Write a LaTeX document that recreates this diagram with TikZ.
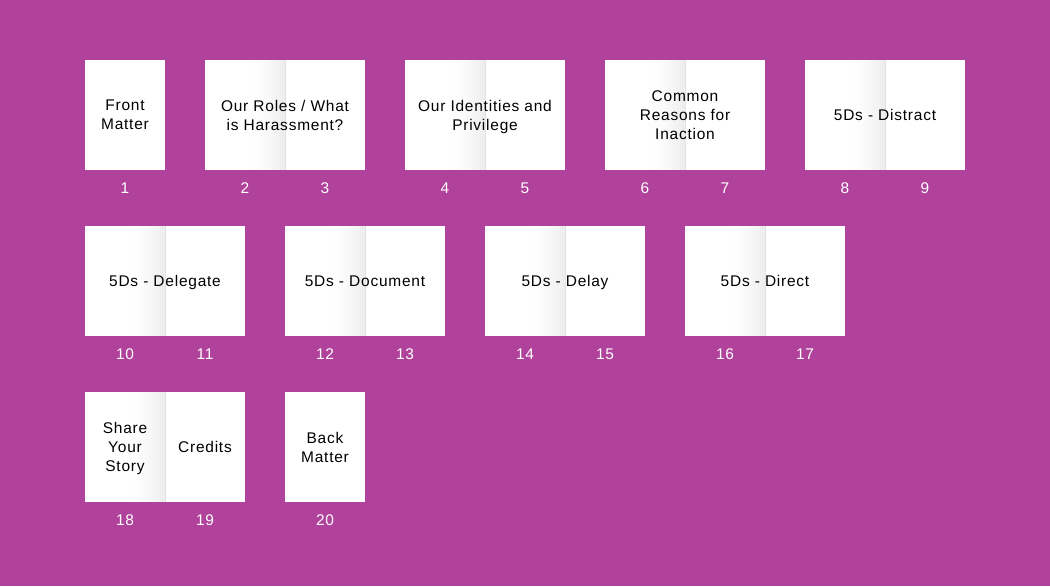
\documentclass[tikz,border=0pt]{standalone}
\usepackage{fontspec}
\setmainfont{Liberation Sans}[LetterSpace=5]
\usetikzlibrary{positioning}
\definecolor{bgcol}{HTML}{B0429B}
\definecolor{gutcol}{HTML}{E2E2E2}

\begin{document}
\begin{tikzpicture}[
  x=0.75pt, y=-0.75pt,
  font=\fontsize{11.6}{14.25}\selectfont,
  page/.style   = {fill=white, minimum width=60pt, minimum height=82.5pt,
                   inner sep=0pt, align=center, text depth=0pt},
  spread/.style = {page, minimum width=120pt,
                   path picture={
                     \foreach \k in {1,...,16}
                       \fill[black, fill opacity={0.075*(1-\k/17)^2}]
                         ([xshift={-2*\k*1pt}]path picture bounding box.north)
                         rectangle ([xshift={-2*(\k-1)*1pt}]path picture bounding box.south);
                     \draw[gutcol, line width=0.75pt]
                       (path picture bounding box.north)
                       -- (path picture bounding box.south);}},
  txt/.style    = {align=center, inner sep=0pt, text depth=0pt},
  num/.style    = {text=white, inner sep=0pt}]

\fill[bgcol] (0,0) rectangle (1050,586);

% row 1
\node[page]   (p1)  at (125,115) {Front\\Matter};
\node[spread] (p23) at (285,115) {Our Roles / What\\is Harassment?};
\node[spread] (p45) at (485,115) {Our Identities and\\Privilege};
\node[spread] (p67) at (685,115) {Common\\Reasons for\\Inaction};
\node[spread] (p89) at (885,115) {5Ds - Distract};

% row 2
\node[spread] (p1011) at (165,281) {5Ds - Delegate};
\node[spread] (p1213) at (365,281) {5Ds - Document};
\node[spread] (p1415) at (565,281) {5Ds - Delay};
\node[spread] (p1617) at (765,281) {5Ds - Direct};

% row 3
\node[spread] (p1819) at (165,447) {};
\node[txt] (t18) at (125,447) {Share\\Your\\Story};
\node[txt] (t19) at (205,447) {Credits};
\node[page]   (p20)   at (325,447) {Back\\Matter};

% page numbers
\node[num] at (125,188) {1};
\node[num] at (245,188) {2};
\node[num] at (325,188) {3};
\node[num] at (445,188) {4};
\node[num] at (525,188) {5};
\node[num] at (645,188) {6};
\node[num] at (725,188) {7};
\node[num] at (845,188) {8};
\node[num] at (925,188) {9};
\node[num] at (125,354) {10};
\node[num] at (205,354) {11};
\node[num] at (325,354) {12};
\node[num] at (405,354) {13};
\node[num] at (525,354) {14};
\node[num] at (605,354) {15};
\node[num] at (725,354) {16};
\node[num] at (805,354) {17};
\node[num] at (125,520) {18};
\node[num] at (205,520) {19};
\node[num] at (325,520) {20};
\end{tikzpicture}
\end{document}
